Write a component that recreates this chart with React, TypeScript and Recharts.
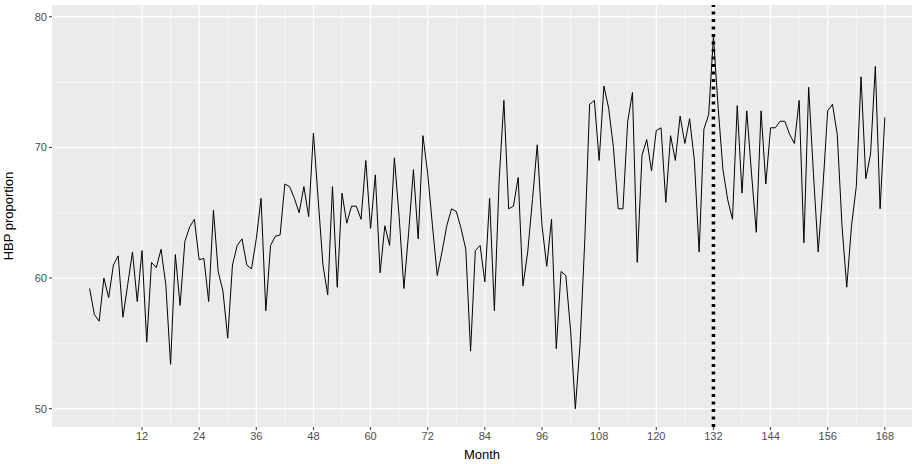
import React from 'react';
import { LineChart, Line, XAxis, YAxis, CartesianGrid, ReferenceLine } from 'recharts';

const hbp = [
  59.2, 57.2, 56.7, 60.0, 58.5, 61.0, 61.7, 57.0, 59.5, 62.0, 58.2, 62.1,
  55.1, 61.2, 60.8, 62.2, 59.5, 53.4, 61.8, 57.9, 62.8, 63.9, 64.5, 61.4,
  61.5, 58.2, 65.2, 60.5, 59.0, 55.4, 61.0, 62.5, 63.0, 61.0, 60.7, 63.0,
  66.1, 57.5, 62.5, 63.2, 63.3, 67.2, 67.0, 66.1, 65.0, 67.0, 64.7, 71.1,
  66.0, 61.0, 58.7, 67.0, 59.3, 66.5, 64.2, 65.5, 65.5, 64.5, 69.0, 63.8,
  67.9, 60.4, 64.0, 62.5, 69.2, 64.7, 59.2, 63.5, 68.3, 63.0, 70.9, 68.0,
  64.0, 60.2, 62.0, 64.0, 65.3, 65.1, 63.8, 62.2, 54.4, 62.1, 62.5, 59.7,
  66.1, 57.5, 67.5, 73.6, 65.3, 65.5, 67.7, 59.4, 62.0, 66.0, 70.2, 64.0,
  60.9, 64.5, 54.6, 60.5, 60.2, 56.0, 50.0, 55.0, 63.0, 73.3, 73.6, 69.0,
  74.7, 73.0, 70.0, 65.3, 65.3, 72.0, 74.2, 61.2, 69.4, 70.6, 68.2, 71.3,
  71.5, 65.8, 70.9, 69.0, 72.4, 70.3, 72.2, 69.0, 62.0, 71.4, 72.5, 78.5,
  73.0, 68.3, 66.0, 64.5, 73.2, 66.5, 72.8, 68.0, 63.5, 72.8, 67.2, 71.5,
  71.5, 72.0, 72.0, 71.0, 70.3, 73.6, 62.7, 74.6, 68.0, 62.0, 67.0, 72.8,
  73.3, 71.0, 64.0, 59.3, 64.0, 67.0, 75.4, 67.6, 69.5, 76.2, 65.3, 72.3,
];

const data = hbp.map((v, i) => ({ month: i + 1, hbp: v }));
const xTicks = [12, 24, 36, 48, 60, 72, 84, 96, 108, 120, 132, 144, 156, 168];
const xMinor = [6, 18, 30, 42, 54, 66, 78, 90, 102, 114, 126, 138, 150, 162];
const yTicks = [50, 60, 70, 80];
const yMinor = [55, 65, 75];
const interventionMonth = 132;

const tickStyle = { fill: '#4D4D4D', fontSize: 11, fontFamily: 'Liberation Sans, Arial, sans-serif' };
const labelStyle = { fill: '#000', fontSize: 13, fontFamily: 'Liberation Sans, Arial, sans-serif' };

export default function App() {
  return (
    <div style={{ position: 'absolute', top: 0, left: 0, background: '#fff' }}>
      <LineChart width={921} height={464} data={data} margin={{ top: 5, right: 9, bottom: 3, left: 0 }}>
        <CartesianGrid fill="#EBEBEB" stroke="#fff" strokeWidth={1.3}
          horizontalValues={yTicks} verticalValues={xTicks} />
        {xMinor.map((m) => (
          <ReferenceLine key={'xm' + m} x={m} stroke="#fff" strokeWidth={0.6} />
        ))}
        {yMinor.map((m) => (
          <ReferenceLine key={'ym' + m} y={m} stroke="#fff" strokeWidth={0.6} />
        ))}
        <XAxis dataKey="month" type="number" domain={[-6.9, 173.7]} ticks={xTicks} allowDataOverflow
          axisLine={false} tickLine={{ stroke: '#333' }} tickSize={3} tick={tickStyle} height={34}
          label={{ value: 'Month', position: 'insideBottom', offset: 2, style: labelStyle }} />
        <YAxis type="number" domain={[48.6, 80.9]} ticks={yTicks} allowDataOverflow
          axisLine={false} tickLine={{ stroke: '#333' }} tickSize={3} tick={tickStyle} width={52}
          label={{ value: 'HBP proportion', angle: -90, position: 'insideLeft', offset: 8, style: { ...labelStyle, textAnchor: 'middle' } }} />
        <Line type="linear" dataKey="hbp" stroke="#000" strokeWidth={1} dot={false} isAnimationActive={false} />
        <ReferenceLine x={interventionMonth} stroke="#000" strokeWidth={3.5} strokeDasharray="3 4.5" />
      </LineChart>
    </div>
  );
}
